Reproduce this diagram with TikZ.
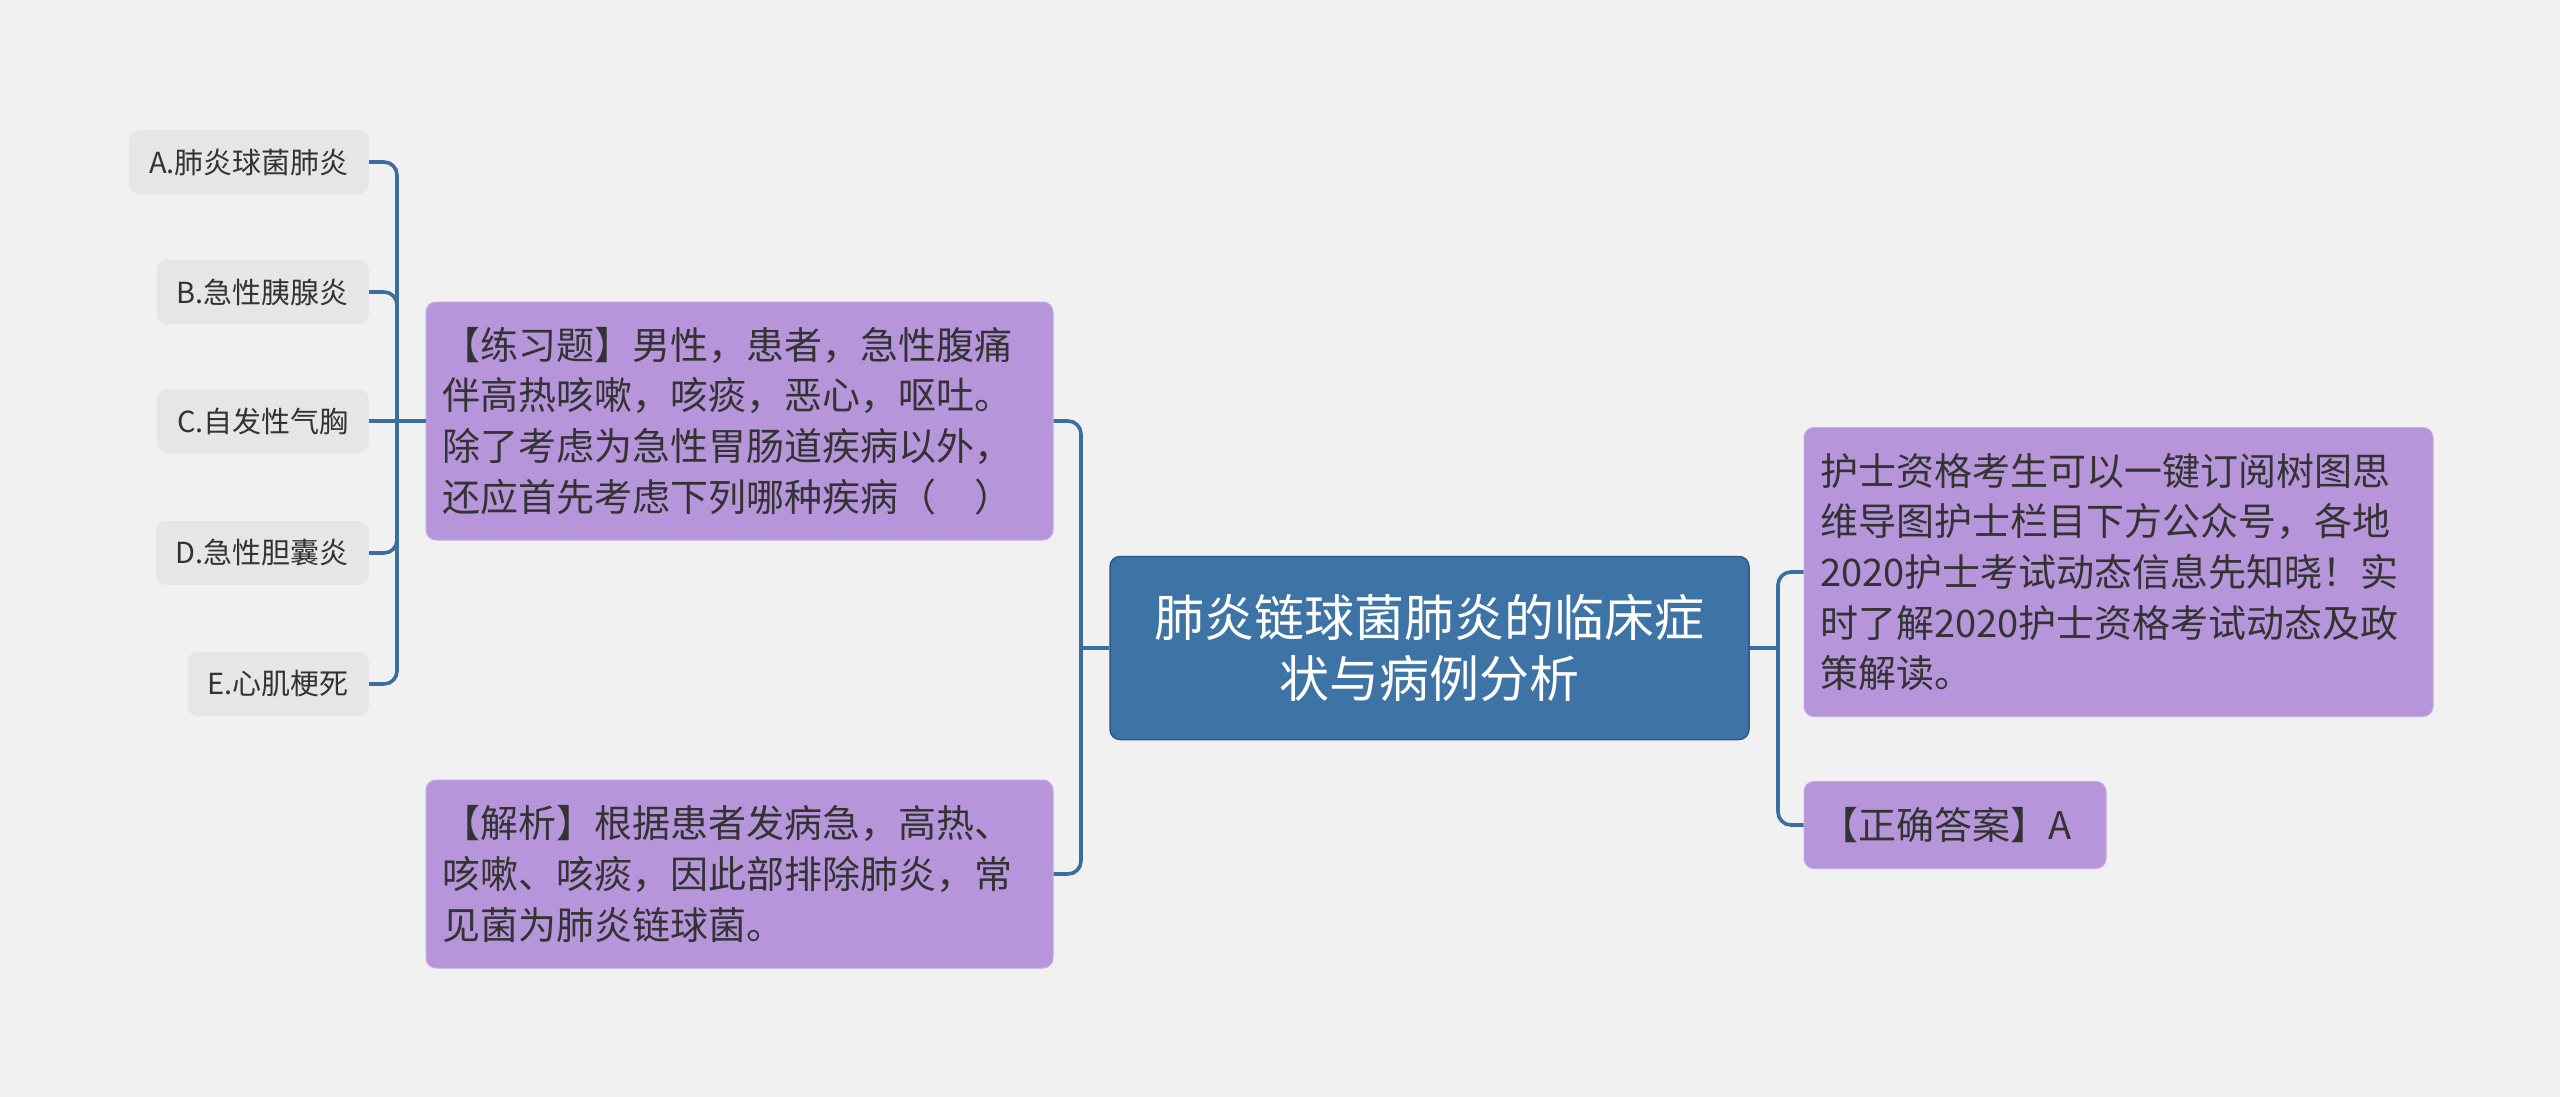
\documentclass[tikz,border=0pt]{standalone}
\usepackage{fontspec}
\setmainfont{Noto Sans CJK SC}
\definecolor{bg}{RGB}{241,241,241}
\definecolor{leafgray}{RGB}{230,230,230}
\definecolor{purp}{RGB}{183,149,218}
\definecolor{purpline}{RGB}{196,170,226}
\definecolor{mainfill}{RGB}{61,115,165}
\definecolor{mainline}{RGB}{44,88,132}
\definecolor{conncol}{RGB}{58,110,160}
\definecolor{txt}{RGB}{51,51,51}
\begin{document}
\begin{tikzpicture}[x=1pt,y=-1pt,
  leaf/.style={rectangle, rounded corners=10pt, fill=leafgray, text=txt, inner xsep=20pt, inner ysep=0pt, minimum height=64pt, font=\fontsize{29}{36}\selectfont, anchor=east},
  pbox/.style={rectangle, rounded corners=10pt, fill=purp, draw=purpline, line width=1pt, text=txt, inner xsep=16pt, inner ysep=0pt, align=left, font=\fontsize{38}{50.6}\selectfont},
  mainbox/.style={rectangle, rounded corners=10pt, fill=mainfill, draw=mainline, line width=1.5pt, text=white, inner xsep=16pt, inner ysep=0pt, align=center, font=\fontsize{50}{61}\selectfont},
  conn/.style={draw=conncol, line width=3.6pt, rounded corners=13pt}]
\path[use as bounding box, fill=bg] (0,0) rectangle (2560,1097);

\node[leaf] (A) at (369,162) {A.肺炎球菌肺炎};
\node[leaf] (B) at (369,292) {B.急性胰腺炎};
\node[leaf] (C) at (369,421) {C.自发性气胸};
\node[leaf] (D) at (369,553) {D.急性胆囊炎};
\node[leaf] (E) at (369,684) {E.心肌梗死};

\node[pbox, text width=595pt, minimum height=238pt] (Q) at (739.5,421)
  {【练习题】男性，患者，急性腹痛\\伴高热咳嗽，咳痰，恶心，呕吐。\\除了考虑为急性胃肠道疾病以外，\\还应首先考虑下列哪种疾病（\hspace{1em}）};
\node[pbox, text width=595pt, minimum height=188pt] (An) at (739.5,874)
  {【解析】根据患者发病急，高热、\\咳嗽、咳痰，因此部排除肺炎，常\\见菌为肺炎链球菌。};

\node[mainbox, text width=607pt, minimum height=183pt] (M) at (1429.5,648)
  {肺炎链球菌肺炎的临床症\\状与病例分析};

\node[pbox, text width=597pt, minimum height=289pt] (I) at (2118.5,572)
  {护士资格考生可以一键订阅树图思\\维导图护士栏目下方公众号，各地\\2020护士考试动态信息先知晓！实\\时了解2020护士资格考试动态及政\\策解读。};
\node[pbox, text width=270pt, minimum height=87pt] (Ans) at (1955,825)
  {【正确答案】A};

\coordinate (ls) at (397,421);
\coordinate (cs) at (1081,648);
\coordinate (rs) at (1778,648);

\draw[conn] (A.east) -| (ls) |- (E.east);
\draw[conn] (B.east) -| (ls);
\draw[conn] (D.east) -| (ls);
\draw[conn] (C.east) -- (Q.west);
\draw[conn] (Q.east) -| (cs) |- (An.east);
\draw[conn] (cs) -- (M.west);
\draw[conn] (I.west) -| (rs) |- (Ans.west);
\draw[conn] (rs) -- (M.east);
\end{tikzpicture}
\end{document}
